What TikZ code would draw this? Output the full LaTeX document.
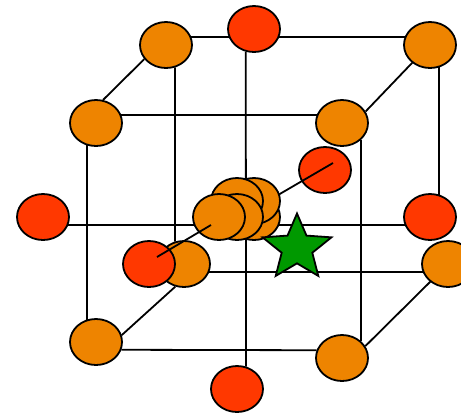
\documentclass[tikz,border=0pt]{standalone}
\usepackage{tikz}
\usetikzlibrary{shapes.geometric,backgrounds}
\definecolor{atomorange}{RGB}{238,132,0}
\definecolor{atomred}{RGB}{255,56,0}
\definecolor{markgreen}{RGB}{0,153,0}
\tikzset{
  atom/.style={ellipse,draw=black,line width=1.8pt,inner sep=0pt,
    minimum width=52pt,minimum height=46pt},
  cornerAtom/.style={atom,fill=atomorange},
  faceAtom/.style={atom,fill=atomred},
  bond/.style={draw=black,line width=1.8pt},
  starMark/.style={star,star points=5,star point ratio=2.25,draw=black,
    line width=1.8pt,fill=markgreen,inner sep=0pt,minimum size=69pt}
}
\begin{document}
\begin{tikzpicture}[x=1pt,y=-1pt]
    \useasboundingbox (0,0) rectangle (461,416);
    \clip (0,0) rectangle (461,416);
    \node[cornerAtom] (backTL) at (166,45) {};
    \node[cornerAtom] (backTR) at (430,45) {};
    \node[cornerAtom] (frontTL) at (96,123) {};
    \node[cornerAtom] (frontTR) at (342,123) {};
    \node[cornerAtom] (backBL) at (184,264) {};
    \node[faceAtom] (faceRight) at (430,217) {};
    \node[cornerAtom] (backBR) at (448,264) {};
    \node[cornerAtom] (frontBL) at (96,342) {};
    \node[cornerAtom] (frontBR) at (342,358) {};
    \node[faceAtom] (faceTop) at (254,29) {};
    \node[faceAtom] (faceBottom) at (237,389) {};
    \node[faceAtom] (faceLeft) at (43,217) {};
    \node[faceAtom] (faceBack) at (325,170) {};
    \begin{scope}[on background layer]
      \draw[bond] (backTL.17) -- (backTR.163);
      \draw[bond] (frontTL.17) -- (frontTR.163);
      \draw[bond] (frontBL.343) -- (frontBR.163);
      \draw[bond] (backBL.343) -- (backBR.197);
      \draw[bond] (faceLeft.343) -- (faceRight.197);
      \draw[bond] (frontTL.248) -- (frontBL.112);
      \draw[bond] (backTL.292) -- (backBL.112);
      \draw[bond] (frontTR.319) -- (frontBR.41);
      \draw[bond] (backTR.292) -- (faceRight.68);
      \draw[bond] (faceTop.250) -- (faceBottom.68);
      \draw[bond] (backTL.213) -- (frontTL.73);
      \draw[bond] (backTR.225) -- (frontTR.26);
      \draw[bond] (backBR.225) -- (frontBR.27);
      \draw[bond] (backBL.249) -- (frontBL.15);
    \end{scope}
    \coordinate (axisBack) at (333,163);
    \coordinate (axisStop) at (254,209);
    \coordinate (axisEnter) at (211,225);
    \coordinate (axisFront) at (157,257);
    \draw[bond] (axisBack) -- (axisStop);
    \node[cornerAtom] (midD) at (254,217) {};
    \node[cornerAtom] (midC) at (254,201) {};
    \node[cornerAtom] (midB) at (237,201) {};
    \node[cornerAtom] (midA) at (237,217) {};
    \node[cornerAtom] (midFront) at (219,217) {};
    \node[faceAtom] (faceFront) at (149,264) {};
    \draw[bond] (axisEnter) -- (axisFront);
    \node[starMark,xscale=1.05,transform shape] (mark) at (297,248) {};
  \end{tikzpicture}
\end{document}
